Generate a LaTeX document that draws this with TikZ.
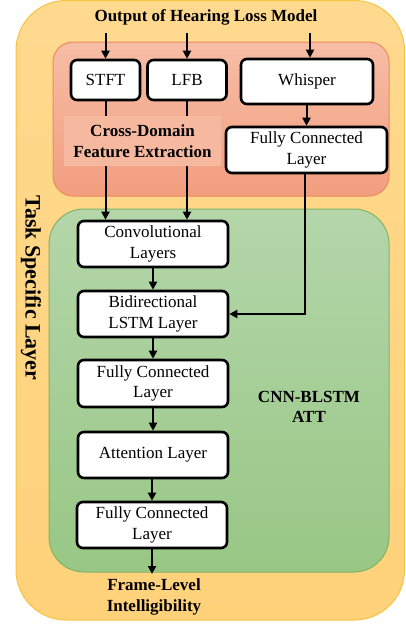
\documentclass[tikz,border=0pt]{standalone}
\usepackage{fontspec}
\setmainfont{Liberation Serif}
\usetikzlibrary{arrows.meta}
\definecolor{outerTop}{HTML}{FFD98E}
\definecolor{outerBot}{HTML}{FFD27A}
\definecolor{outerLine}{HTML}{F7C442}
\definecolor{redTop}{HTML}{F6BDA6}
\definecolor{redBot}{HTML}{F29E7F}
\definecolor{redLine}{HTML}{F08A5D}
\definecolor{labFill}{HTML}{F6B9A0}
\definecolor{greenTop}{HTML}{B4D6AA}
\definecolor{greenBot}{HTML}{98C785}
\definecolor{greenLine}{HTML}{82B366}
\tikzset{
  blk/.style={draw=black, line width=2.6pt, rounded corners=6pt, fill=white,
    align=center, inner sep=0pt, font=\fontsize{17}{20.5}\selectfont},
  lbl/.style={align=center, font=\fontsize{17}{20.5}\selectfont\bfseries, inner sep=0pt},
  arr/.style={line width=2pt, -{Triangle[length=8pt,width=8pt]}},
  ln/.style={line width=2pt}
}
\begin{document}
\begin{tikzpicture}[x=1pt,y=-1pt]
\useasboundingbox (0,0) rectangle (406,625);
% containers
\shade[top color=outerTop, bottom color=outerBot, draw=outerLine, line width=1pt, rounded corners=50pt]
  (16,0.5) rectangle (404.5,620);
\shade[top color=redTop, bottom color=redBot, draw=redLine, line width=1pt, rounded corners=20pt]
  (53,42) rectangle (389,196);
\shade[top color=greenTop, bottom color=greenBot, draw=greenLine, line width=1pt, rounded corners=35pt]
  (49,209) rectangle (389,572);

% title
\node[lbl] (title) at (206,17) {Output of Hearing Loss Model};
\node[lbl, font=\fontsize{22}{26}\selectfont\bfseries, rotate=-90] (task) at (31,288) {Task Specific Layer};

% blocks
\node[blk, minimum width=69pt, minimum height=40pt] (stft) at (105.5,80) {STFT};
\node[blk, minimum width=79pt, minimum height=40pt] (lfb) at (187,80) {LFB};
\node[blk, minimum width=132pt, minimum height=45pt] (whisper) at (307,81.5) {Whisper};
\node[blk, minimum width=161pt, minimum height=46pt] (fctop) at (306.5,150) {Fully Connected\\Layer};
\node[blk, minimum width=150pt, minimum height=46pt] (conv) at (153,244) {Convolutional\\Layers};
\node[blk, minimum width=150pt, minimum height=46pt] (bilstm) at (153,314) {Bidirectional\\LSTM Layer};
\node[blk, minimum width=150pt, minimum height=47pt] (fcmid) at (153,383.5) {Fully Connected\\Layer};
\node[blk, minimum width=150pt, minimum height=46pt] (att) at (153,455) {Attention Layer};
\node[blk, minimum width=150pt, minimum height=46pt] (fcbot) at (152,525) {Fully Connected\\Layer};

% input coordinates
\coordinate (in1) at (105.5,33);
\coordinate (in2) at (187,33);
\coordinate (in3) at (310,33);
\coordinate (out) at (152,574);

% connectors
\draw[arr] (in1) -- (stft.north);
\draw[arr] (in2) -- (lfb.north);
\draw[arr] (in3) -- (in3 |- whisper.north);
\draw[arr] (stft.south) -- (stft.south |- conv.north);
\draw[arr] (lfb.south) -- (lfb.south |- conv.north);
\draw[arr] (whisper.south -| fctop.north) -- (fctop.north);
\draw[arr] (fctop.south -| 305,0) |- (bilstm.east);
\draw[arr] (conv.south) -- (bilstm.north);
\draw[arr] (bilstm.south) -- (fcmid.north);
\draw[arr] (fcmid.south) -- (att.north);
\draw[arr] (fcbot.north |- att.south) -- (fcbot.north);
\draw[arr] (fcbot.south) -- (out);

% cross-domain label (covers the lines)
\node[lbl, fill=labFill, minimum width=157pt, minimum height=50pt] (cdfe) at (142.5,141) {Cross-Domain\\Feature Extraction};

% other labels
\node[lbl] (cnn) at (309,407) {CNN-BLSTM\\ATT};
\node[lbl] (frame) at (154,597) {Frame-Level\\Intelligibility};
\end{tikzpicture}
\end{document}
